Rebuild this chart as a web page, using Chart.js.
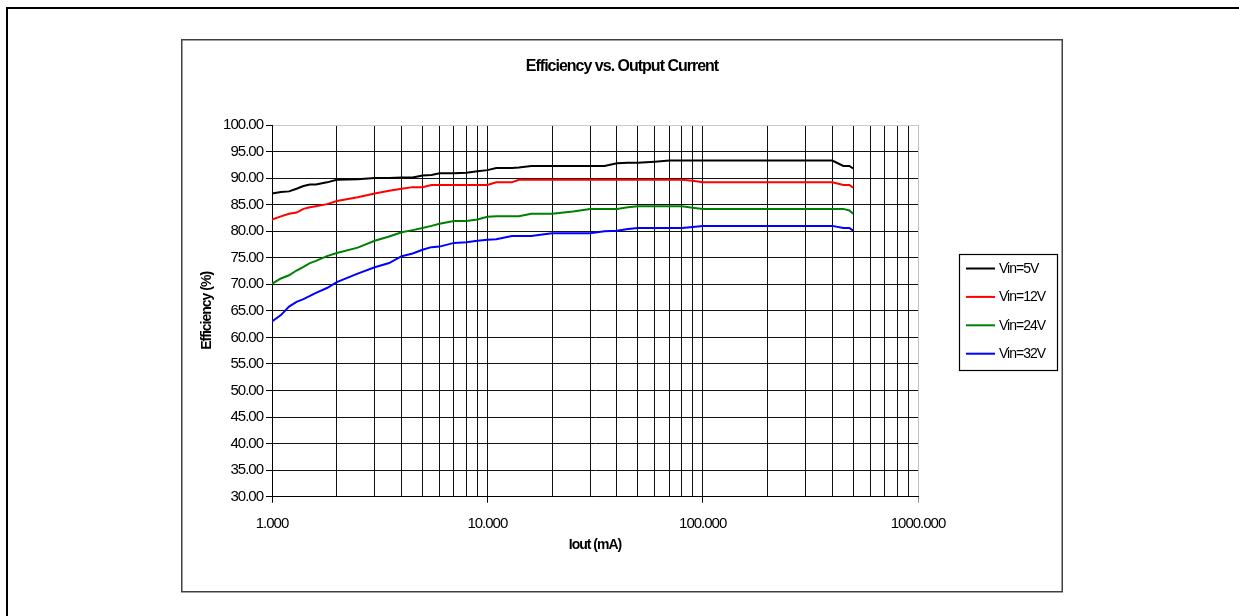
<!DOCTYPE html>
<html>
<head>
<meta charset="utf-8">
<script src="https://cdn.jsdelivr.net/npm/chart.js@4"></script>
<style>
  html, body { margin: 0; padding: 0; background: #fff; }
  #wrap { width: 1239px; height: 616px; }
</style>
</head>
<body>
<div id="wrap"><canvas id="myChart" width="1239" height="616"></canvas></div>
<script>
// output current (mA), shared by all four curves
var iout = [1, 1.1, 1.2, 1.3, 1.4, 1.5, 1.6, 1.8, 2, 2.5, 3, 3.5, 4, 4.5, 5, 5.5, 6, 7, 8, 9,
            10, 11, 13, 14, 16, 18, 20, 25, 30, 35, 40, 45, 50, 60, 70, 80, 90,
            100, 150, 200, 300, 400, 450, 480, 500]

// efficiency (%) per input voltage
var vin5 = [87.1, 87.4, 87.5, 88.0, 88.5, 88.8, 88.8, 89.2, 89.7, 89.8, 90.0, 90.0, 90.1, 90.1, 90.5, 90.6, 90.9, 90.9, 91.0, 91.3,
            91.5, 91.9, 91.9, 92.0, 92.3, 92.3, 92.3, 92.3, 92.3, 92.3, 92.8, 92.9, 92.9, 93.1, 93.3, 93.3, 93.3,
            93.3, 93.3, 93.3, 93.3, 93.3, 92.3, 92.3, 91.8]
var vin12 = [82.2, 82.8, 83.3, 83.5, 84.2, 84.5, 84.7, 85.1, 85.7, 86.4, 87.1, 87.6, 88.0, 88.3, 88.3, 88.7, 88.7, 88.7, 88.7, 88.7,
             88.7, 89.2, 89.2, 89.7, 89.7, 89.7, 89.7, 89.7, 89.7, 89.7, 89.7, 89.7, 89.7, 89.7, 89.7, 89.7, 89.5,
             89.2, 89.2, 89.2, 89.2, 89.2, 88.7, 88.7, 88.2]
var vin24 = [70.1, 71.1, 71.7, 72.6, 73.3, 74.0, 74.4, 75.3, 75.9, 76.9, 78.2, 79.0, 79.8, 80.2, 80.6, 81.0, 81.4, 81.9, 81.9, 82.2,
             82.7, 82.8, 82.8, 82.8, 83.3, 83.3, 83.3, 83.7, 84.2, 84.2, 84.2, 84.5, 84.7, 84.7, 84.7, 84.7, 84.4,
             84.2, 84.2, 84.2, 84.2, 84.2, 84.2, 83.9, 83.3]
var vin32 = [63.0, 64.2, 65.8, 66.7, 67.2, 67.8, 68.4, 69.3, 70.4, 72.0, 73.2, 74.0, 75.3, 75.8, 76.5, 77.0, 77.1, 77.8, 77.9, 78.2,
             78.4, 78.5, 79.1, 79.1, 79.1, 79.4, 79.6, 79.6, 79.6, 80.0, 80.1, 80.4, 80.6, 80.6, 80.6, 80.6, 80.8,
             81.0, 81.0, 81.0, 81.0, 81.0, 80.6, 80.6, 80.1]

var seriesNames = ["Vin=5V", "Vin=12V", "Vin=24V", "Vin=32V"]
var seriesColors = ["#000000", "#ff0000", "#008000", "#0000ff"]

var xTickValues = [1, 2, 3, 4, 5, 6, 7, 8, 9, 10, 20, 30, 40, 50, 60, 70, 80, 90,
                   100, 200, 300, 400, 500, 600, 700, 800, 900, 1000]
var xMajor = [1, 10, 100, 1000]
var xMajorLabels = ["1.000", "10.000", "100.000", "1000.000"]

var chartTitle = "Efficiency vs. Output Current"
var FONT = "'Liberation Sans', Arial, sans-serif"

function toPoints(values) {
    var pts = []
    for (let i = 0; i < iout.length; i++) {
        pts.push({x: iout[i], y: values[i]})
    }
    return pts
}

var allSeries = [vin5, vin12, vin24, vin32]
var datasets = []
for (let i = 0; i < allSeries.length; i++) {
    datasets.push({
        label: seriesNames[i],
        data: toPoints(allSeries[i]),
        borderColor: seriesColors[i],
        backgroundColor: seriesColors[i],
        borderWidth: 2,
        pointRadius: 0,
        tension: 0,
        fill: false
    })
}

// frames, title and the boxed legend on the right
var framePlugin = {
    id: "frame",
    beforeDraw: function (chart) {
        var ctx = chart.ctx
        ctx.save()
        ctx.fillStyle = "#fff"
        ctx.fillRect(0, 0, chart.width, chart.height)
        ctx.strokeStyle = "#000"
        ctx.lineWidth = 2
        ctx.strokeRect(7, 8, 1300, 700)
        ctx.strokeStyle = "#404040"
        ctx.lineWidth = 1.5
        ctx.strokeRect(181.75, 39.75, 880.5, 552)
        ctx.restore()
        ctx.letterSpacing = "-1px"
    },
    afterDraw: function (chart) {
        var ctx = chart.ctx
        ctx.save()
        ctx.letterSpacing = "-1px"
        ctx.fillStyle = "#000"
        ctx.font = "bold 16px " + FONT
        ctx.textAlign = "center"
        ctx.textBaseline = "middle"
        ctx.fillText(chartTitle, 622, 66.5)

        // legend
        ctx.strokeStyle = "#000"
        ctx.lineWidth = 1.2
        ctx.strokeRect(959.5, 254.5, 98, 116)
        ctx.font = "14px " + FONT
        ctx.textAlign = "left"
        var ds = chart.data.datasets
        for (let i = 0; i < ds.length; i++) {
            var y = 268.5 + i * 28.4
            ctx.strokeStyle = ds[i].borderColor
            ctx.lineWidth = 2
            ctx.beginPath()
            ctx.moveTo(966, y)
            ctx.lineTo(995, y)
            ctx.stroke()
            ctx.fillStyle = "#000"
            ctx.fillText(ds[i].label, 999, y + 0.5)
        }
        ctx.restore()
    }
}

Chart.defaults.font.family = FONT
Chart.defaults.color = "#000"

var ctx = document.getElementById("myChart")
var myChart = new Chart(ctx, {
    type: "line",
    data: { datasets: datasets },
    plugins: [framePlugin],
    options: {
        responsive: false,
        animation: false,
        devicePixelRatio: 1,
        layout: { padding: { left: 181, top: 125, right: 321, bottom: 24 } },
        plugins: {
            legend: { display: false },
            title: { display: false },
            tooltip: { enabled: false }
        },
        scales: {
            x: {
                type: "logarithmic",
                min: 1,
                max: 1000,
                afterBuildTicks: function (scale) {
                    scale.ticks = xTickValues.map(v => ({value: v}))
                },
                afterFit: function (scale) { scale.height = 95.3 },
                ticks: {
                    autoSkip: false,
                    maxRotation: 0,
                    padding: 12,
                    color: "#000",
                    font: { size: 15 },
                    callback: function (value) {
                        var k = xMajor.indexOf(value)
                        return k < 0 ? "" : xMajorLabels[k]
                    }
                },
                grid: {
                    lineWidth: 1,
                    tickLength: 6,
                    color: function (c) {
                        return c.tick && c.tick.value === 1000 ? "#c0c0c0" : "#111"
                    },
                    tickColor: function (c) {
                        if (!c.tick) return "transparent"
                        if (c.tick.value === 1000) return "#909090"
                        return xMajor.indexOf(c.tick.value) >= 0 ? "#000" : "transparent"
                    }
                },
                border: { color: "#000", width: 1 },
                title: {
                    display: true,
                    text: "Iout (mA)",
                    color: "#000",
                    font: { size: 14, weight: "bold" },
                    padding: { top: 0, bottom: 38.6 }
                }
            },
            y: {
                min: 30,
                max: 100,
                afterFit: function (scale) { scale.width = 91 },
                ticks: {
                    stepSize: 5,
                    padding: 3,
                    color: "#000",
                    font: { size: 15 },
                    callback: function (v) { return v.toFixed(2) }
                },
                grid: {
                    lineWidth: 1,
                    tickLength: 6,
                    color: function (c) {
                        return c.tick && c.tick.value === 100 ? "#c8c8c8" : "#111"
                    },
                    tickColor: "#000"
                },
                border: { color: "#000", width: 1 },
                title: {
                    display: true,
                    text: "Efficiency (%)",
                    color: "#000",
                    font: { size: 14, weight: "bold" },
                    padding: { top: 17.5, bottom: 0 }
                }
            }
        }
    }
})
</script>
</body>
</html>
